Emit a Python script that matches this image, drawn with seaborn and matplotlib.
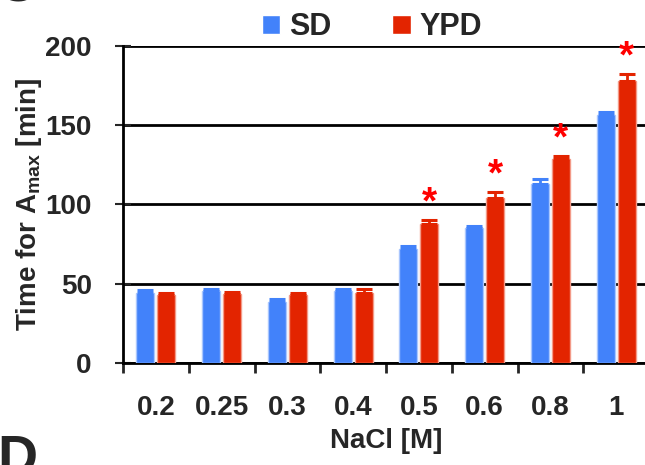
import matplotlib
matplotlib.use("Agg")
import matplotlib.pyplot as plt
import numpy as np
import pandas as pd
import seaborn as sns
from matplotlib.patches import Patch

# Values
nacl = ["0.2", "0.25", "0.3", "0.4", "0.5", "0.6", "0.8", "1"]
sd_time = [44.1, 45.4, 38.6, 45.4, 71.8, 85.1, 113.0, 156.7]
sd_err = [2.1, 1.6, 1.7, 1.6, 2.1, 1.3, 3.3, 1.6]
ypd_time = [42.6, 43.4, 42.8, 44.1, 87.5, 104.3, 128.8, 177.7]
ypd_err = [1.7, 1.5, 1.5, 2.3, 2.7, 3.6, 2.1, 4.6]
significant = [False, False, False, False, True, True, True, True]

media = ["SD", "YPD"]
colors = {"SD": "#4282FA", "YPD": "#E32400"}
edges = {"SD": "#A9C6FD", "YPD": "#F39A88"}

df = pd.DataFrame({
    "NaCl": nacl * 2,
    "medium": ["SD"] * len(nacl) + ["YPD"] * len(nacl),
    "time": sd_time + ypd_time,
})

sns.set_style("white")
plt.rcParams["font.family"] = ["Liberation Sans", "DejaVu Sans"]
plt.rcParams["font.weight"] = "bold"
plt.rcParams["mathtext.fontset"] = "custom"
plt.rcParams["mathtext.bf"] = "Liberation Sans:bold"
plt.rcParams["mathtext.rm"] = "Liberation Sans:bold"

fig = plt.figure(figsize=(6.45, 4.65), dpi=100)
ax = fig.add_axes([123 / 645, 1 - 363 / 465, 526 / 645, 317 / 465])

sns.barplot(data=df, x="NaCl", y="time", hue="medium", order=nacl,
            hue_order=media, palette=colors, width=0.64, gap=0.14,
            errorbar=None, saturation=1, legend=False, ax=ax, zorder=3)

# upward-only error bars, coloured like the bars
for cont, med, errs in zip(ax.containers, media, [sd_err, ypd_err]):
    for bar, e in zip(cont, errs):
        bar.set_edgecolor(edges[med])
        bar.set_linewidth(1.0)
        xc = bar.get_x() + bar.get_width() / 2
        ax.errorbar(xc, bar.get_height(), yerr=[[0], [e]], fmt="none",
                    ecolor=colors[med], elinewidth=2, capsize=5.5,
                    capthick=2.2, zorder=4)

# significance stars above YPD bars
for i, (v, e, s) in enumerate(zip(ypd_time, ypd_err, significant)):
    if s:
        bar = ax.containers[1][i]
        xc = bar.get_x() + bar.get_width() / 2
        ax.text(xc, v + e - 1, "*", color="#FF0000", fontsize=28,
                fontweight="bold", ha="center", va="bottom", zorder=5)

ax.set_xlim(-0.5, 7.5)
ax.set_ylim(0, 200)
ax.set_yticks([0, 50, 100, 150, 200])
ax.yaxis.grid(True, color="black", linewidth=2)
ax.set_axisbelow(True)
for side in ["top", "right"]:
    ax.spines[side].set_visible(False)
for side in ["left", "bottom"]:
    ax.spines[side].set_color("black")
    ax.spines[side].set_linewidth(2)

ax.tick_params(axis="y", direction="inout", length=11, width=1.5,
               labelsize=20, pad=17, left=True)
ax.set_xticks(range(len(nacl)))
ax.set_xticklabels(nacl)
ax.set_xticks(np.arange(-0.5, len(nacl)), minor=True)
ax.tick_params(axis="x", which="major", length=0, labelsize=20, pad=23)
ax.tick_params(axis="x", which="minor", direction="out", length=7,
               width=2, bottom=True)
for lab in ax.get_xticklabels() + ax.get_yticklabels():
    lab.set_fontweight("bold")

ax.set_xlabel("NaCl [M]", fontsize=20, fontweight="bold", labelpad=5)
ax.set_ylabel(r"Time for A$_{\mathbf{max}}$ [min]", fontsize=20,
              fontweight="bold", labelpad=1)

handles = [Patch(facecolor=colors[m], label=m) for m in media]
leg = fig.legend(handles=handles, loc="center", bbox_to_anchor=(372 / 645, 1 - 27 / 465),
                 ncol=2, frameon=False, handlelength=0.6, handleheight=0.6,
                 handletextpad=0.3, columnspacing=2.0,
                 prop={"size": 22, "weight": "bold"})

# panel letters cropped at the figure edges
fig.text(-0.005, 1 - 13 / 465, "C", fontsize=40, fontweight="bold",
         ha="left", va="bottom")
fig.text(-0.005, 1 - 434 / 465, "D", fontsize=40, fontweight="bold",
         ha="left", va="top")

fig.savefig("out.png", dpi=100)
